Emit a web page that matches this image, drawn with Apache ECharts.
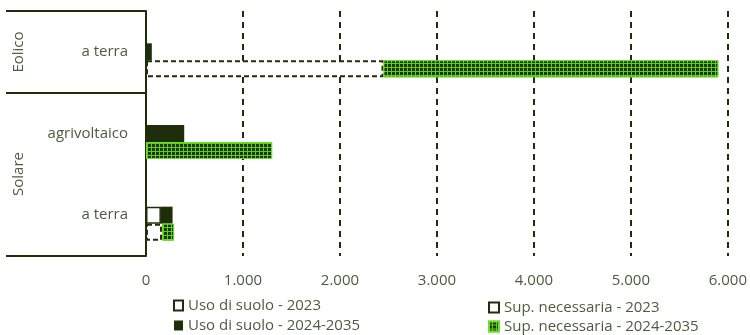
<!DOCTYPE html>
<html>
<head>
<meta charset="utf-8">
<script src="https://cdn.jsdelivr.net/npm/echarts@6/dist/echarts.min.js"></script>
<style>
  html, body { margin: 0; padding: 0; background: #fff; }
  #main { width: 750px; height: 335px; }
</style>
</head>
<body>
<div id="main"></div>
<script>
// Categories (top to bottom) and their groups
var categories = ['a terra', 'agrivoltaico', 'a terra'];
var groups = ['Eolico', 'Solare'];

// Values, in the order of categories
var usoSuolo2023 = [0, 0, 154];
var usoSuolo2024 = [60, 394, 120];
var supNecessaria2023 = [2449, 0, 165];
var supNecessaria2024 = [3453, 1301, 125];

var xTicks = [0, 1000, 2000, 3000, 4000, 5000, 6000];

var dark = '#1e2e0b';
var textColor = '#4d5c3e';
var font = '"Open Sans", "Noto Sans", sans-serif';

var myChart = echarts.init(document.getElementById('main'));

// green bar with a dark checkered pattern
var patternStyle = {
    color: '#5ed01a',
    borderColor: '#6ae02a',
    borderWidth: 1,
    decal: {
        symbol: 'rect',
        symbolSize: 1,
        color: '#1d3509',
        dashArrayX: [3, 1],
        dashArrayY: [3, 1]
    }
};

var option = {
    animation: false,
    grid: { left: 146, right: 21, top: 11, bottom: 79 },
    xAxis: {
        type: 'value',
        min: xTicks[0],
        max: xTicks[xTicks.length - 1],
        interval: 1000,
        axisLine: { show: false },
        axisTick: { show: false },
        axisLabel: {
            color: textColor, fontFamily: font, fontSize: 15, margin: 17,
            formatter: function (v) { return String(v).replace(/\B(?=(\d{3})+(?!\d))/g, '.'); }
        },
        splitLine: { lineStyle: { color: dark, width: 2, type: [6, 5] } }
    },
    yAxis: {
        type: 'category',
        inverse: true,
        data: categories,
        axisLine: { lineStyle: { color: dark, width: 2 } },
        axisTick: { show: false },
        axisLabel: { color: textColor, fontFamily: font, fontSize: 15, margin: 18 }
    },
    legend: [{
        orient: 'vertical', left: 173, top: 298, padding: 0, icon: 'rect',
        itemWidth: 9, itemHeight: 10, itemGap: 5,
        textStyle: { color: textColor, fontFamily: font, fontSize: 15 },
        data: ['Uso di suolo - 2023', 'Uso di suolo - 2024-2035']
    }, {
        orient: 'vertical', left: 488, top: 300, padding: 0, icon: 'rect',
        itemWidth: 10, itemHeight: 10, itemGap: 4,
        textStyle: { color: textColor, fontFamily: font, fontSize: 15 },
        data: ['Sup. necessaria - 2023', 'Sup. necessaria - 2024-2035']
    }],
    graphic: [
        { type: 'line', shape: { x1: 6, y1: 11, x2: 146, y2: 11 }, style: { stroke: dark, lineWidth: 2 } },
        { type: 'line', shape: { x1: 6, y1: 93, x2: 146, y2: 93 }, style: { stroke: dark, lineWidth: 2 } },
        { type: 'line', shape: { x1: 6, y1: 256, x2: 146, y2: 256 }, style: { stroke: dark, lineWidth: 2 } },
        { type: 'text', x: 19, y: 52, rotation: Math.PI / 2,
          style: { text: groups[0], fill: textColor, font: '15px ' + font, align: 'center', verticalAlign: 'middle' } },
        { type: 'text', x: 19, y: 174, rotation: Math.PI / 2,
          style: { text: groups[1], fill: textColor, font: '15px ' + font, align: 'center', verticalAlign: 'middle' } }
    ],
    series: [
        {
            // empty slot so the two bars sit below the category centre
            name: 'spacer', type: 'bar', stack: 'z', barWidth: 17, barGap: 0,
            data: [null, null, null], silent: true
        },
        {
            name: 'Uso di suolo - 2023', type: 'bar', stack: 'uso', barWidth: 17, barGap: 0,
            itemStyle: { color: '#ffffff', borderColor: dark, borderWidth: 1.5 },
            data: usoSuolo2023
        },
        {
            name: 'Uso di suolo - 2024-2035', type: 'bar', stack: 'uso', barWidth: 17, barGap: 0,
            itemStyle: { color: dark },
            data: usoSuolo2024
        },
        {
            name: 'Sup. necessaria - 2023', type: 'bar', stack: 'sup', barWidth: 17, barGap: 0,
            itemStyle: { color: '#ffffff', borderColor: dark, borderWidth: 2, borderType: [5, 3] },
            data: supNecessaria2023
        },
        {
            name: 'Sup. necessaria - 2024-2035', type: 'bar', stack: 'sup', barWidth: 17, barGap: 0,
            itemStyle: patternStyle,
            data: supNecessaria2024
        }
    ]
};

myChart.setOption(option);
</script>
</body>
</html>
